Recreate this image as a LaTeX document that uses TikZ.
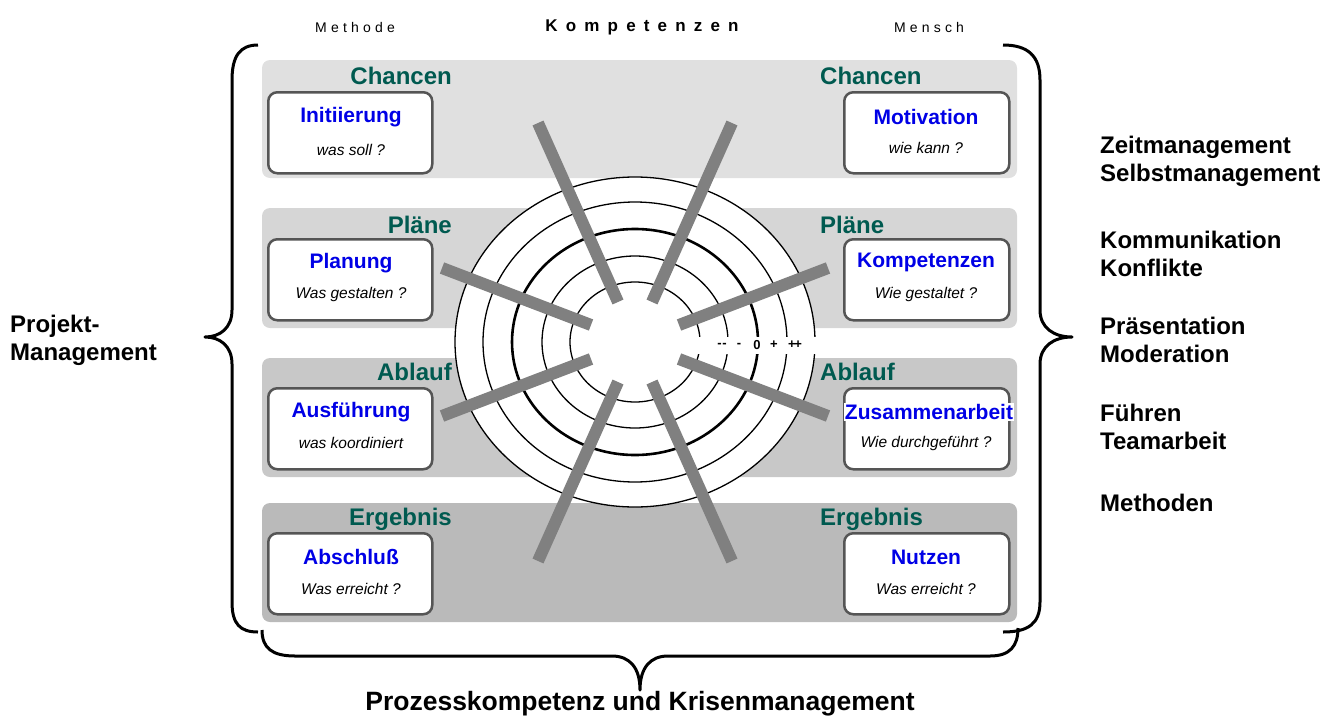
\documentclass[tikz,border=0pt]{standalone}
\usepackage{fontspec}
\setmainfont{Liberation Sans}
\definecolor{bandA}{HTML}{E0E0E0}
\definecolor{bandB}{HTML}{D6D6D6}
\definecolor{bandC}{HTML}{C8C8C8}
\definecolor{bandD}{HTML}{BABABA}
\definecolor{boxgray}{HTML}{555555}
\definecolor{titleblue}{HTML}{0000E6}
\definecolor{labteal}{HTML}{005A50}
\definecolor{spokegray}{HTML}{808080}
\tikzset{
  band/.style={rounded corners=8pt, draw=none},
  pbox/.style={draw=boxgray, line width=2.5pt, fill=white, rounded corners=9pt, minimum height=81pt, inner sep=0pt},
  ttl/.style={font=\bfseries\fontsize{21}{25}\selectfont, text=titleblue, inner sep=1pt},
  sub/.style={font=\itshape\fontsize{15.5}{18}\selectfont, inner sep=0pt},
  blab/.style={font=\bfseries\fontsize{24}{28}\selectfont, text=labteal, inner sep=0pt},
  side/.style={font=\bfseries\fontsize{24}{28}\selectfont, align=left, inner sep=0pt, anchor=west},
  spoke/.style={line width=12pt, draw=spokegray},
  ring/.style={line width=1.3pt},
  brace/.style={line width=3pt, line join=round},
  scl/.style={font=\bfseries\fontsize{13}{14}\selectfont, inner sep=0pt},
  hdr/.style={font=\fontsize{14}{16}\selectfont\addfontfeature{LetterSpace=30}}
}
\begin{document}
\begin{tikzpicture}[x=1pt,y=-1pt]
\useasboundingbox (0,0) rectangle (1343,718);
% header
\node[hdr] (hmeth) at (355,27) {Methode};
\node[font=\bfseries\fontsize{17}{19}\selectfont\addfontfeature{LetterSpace=48}] (hkomp) at (642,27) {Kompetenzen};
\node[hdr] (hmen) at (929,27) {Mensch};
% bands
\fill[band, bandA] (262,60) rectangle (1017,178);
\fill[band, bandB] (262,208) rectangle (1017,328);
\fill[band, bandC] (262,358) rectangle (1017,477);
\fill[band, bandD] (262,503) rectangle (1017,622);
% band labels
\node[blab, anchor=east] (lc) at (452,76) {Chancen};
\node[blab, anchor=west] (rc) at (820,76) {Chancen};
\node[blab, anchor=east] (lp) at (452,225) {Pläne};
\node[blab, anchor=west] (rp) at (820,225) {Pläne};
\node[blab, anchor=east] (la) at (452,372) {Ablauf};
\node[blab, anchor=west] (ra) at (820,372) {Ablauf};
\node[blab, anchor=east] (le) at (452,519) {Ergebnis};
\node[blab, anchor=west] (re) at (820,519) {Ergebnis};
% boxes left
\node[pbox, minimum width=164pt, anchor=north west] (b1) at (267,91) {};
\node[pbox, minimum width=164pt, anchor=north west] (b2) at (267,238) {};
\node[pbox, minimum width=164pt, anchor=north west] (b3) at (267,387) {};
\node[pbox, minimum width=164pt, anchor=north west] (b4) at (267,532) {};
% boxes right
\node[pbox, minimum width=165pt, anchor=north west] (c1) at (843,91) {};
\node[pbox, minimum width=165pt, anchor=north west] (c2) at (843,238) {};
\node[pbox, minimum width=165pt, anchor=north west] (c3) at (843,387) {};
\node[pbox, minimum width=165pt, anchor=north west] (c4) at (843,532) {};
% box texts
\node[ttl] (t1) at (351,117) {Initiierung};
\node[sub] (s1) at (351,150) {was soll ?};
\node[ttl] (t2) at (351,263) {Planung};
\node[sub] (s2) at (351,294) {Was gestalten ?};
\node[ttl] (t3) at (351,412) {Ausführung};
\node[sub] (s3) at (351,443) {was koordiniert};
\node[ttl] (t4) at (351,557) {Abschluß};
\node[sub] (s4) at (351,589) {Was erreicht ?};
\node[ttl] (u1) at (926,117) {Motivation};
\node[sub] (v1) at (926,148) {wie kann ?};
\node[ttl] (u2) at (926,262) {Kompetenzen};
\node[sub] (v2) at (926,294) {Wie gestaltet ?};
\node[ttl, fill=white] (u3) at (929,412) {Zusammenarbeit};
\node[sub] (v3) at (926,443) {Wie durchgeführt ?};
\node[ttl] (u4) at (926,557) {Nutzen};
\node[sub] (v4) at (926,589) {Was erreicht ?};
% target
\coordinate (c) at (635,342);
\fill[white] (c) ellipse [x radius=180, y radius=165];
\draw[ring] (c) ellipse [x radius=180, y radius=165];
\draw[ring] (c) ellipse [x radius=152, y radius=140];
\draw[line width=2.6pt] (c) ellipse [x radius=123, y radius=113];
\draw[ring] (c) ellipse [x radius=93, y radius=86];
\draw[ring] (c) ellipse [x radius=65, y radius=60];
\node[fill=white, minimum width=124pt, minimum height=17pt, inner sep=0pt] (scalebg) at (756,345) {};
\node[scl] (m2) at (722,345) {-\kern0.5pt-};
\node[scl] (m1) at (739,345) {-};
\node[scl] (z0) at (757,345) {0};
\node[scl] (p1) at (774,345) {+};
\node[scl] (p2) at (795,345) {+\kern-1.5pt+};
% spokes
\draw[spoke] (618,302) -- (538,123);
\draw[spoke] (652,302) -- (732,123);
\draw[spoke] (618,382) -- (538,561);
\draw[spoke] (652,382) -- (732,561);
\draw[spoke] (591,325) -- (442,268);
\draw[spoke] (679,325) -- (828,268);
\draw[spoke] (591,359) -- (442,416);
\draw[spoke] (679,359) -- (828,416);
% braces
\draw[brace] (258,45) .. controls (240,45) and (232,56) .. (232,80) -- (232,310)
  .. controls (232,328) and (220,337) .. (205,337)
  .. controls (220,337) and (232,346) .. (232,364) -- (232,602)
  .. controls (232,624) and (240,632) .. (258,632);
\draw[brace] (1003,45) .. controls (1028,45) and (1040,56) .. (1040,80) -- (1040,310)
  .. controls (1040,328) and (1054,337) .. (1072,337)
  .. controls (1054,337) and (1040,346) .. (1040,364) -- (1040,602)
  .. controls (1040,624) and (1028,632) .. (1003,632);
\draw[brace] (262,630) .. controls (262,648) and (272,656) .. (295,656) -- (612,656)
  .. controls (630,656) and (640,668) .. (640,690)
  .. controls (640,668) and (650,656) .. (668,656) -- (990,656)
  .. controls (1010,656) and (1018,646) .. (1018,628);
% side texts
\node[side] (pm) at (10,340) {Projekt-\\Management};
\node[side] (r1) at (1100,161) {Zeitmanagement\\Selbstmanagement};
\node[side] (r2) at (1100,254) {Kommunikation\\Konflikte};
\node[side] (r3) at (1100,340) {Präsentation\\Moderation};
\node[side] (r4) at (1100,427) {Führen\\Teamarbeit};
\node[side] (r5) at (1100,503) {Methoden};
\node[font=\bfseries\fontsize{26.5}{28}\selectfont] (bot) at (640,704) {Prozesskompetenz und Krisenmanagement};
\end{tikzpicture}
\end{document}
